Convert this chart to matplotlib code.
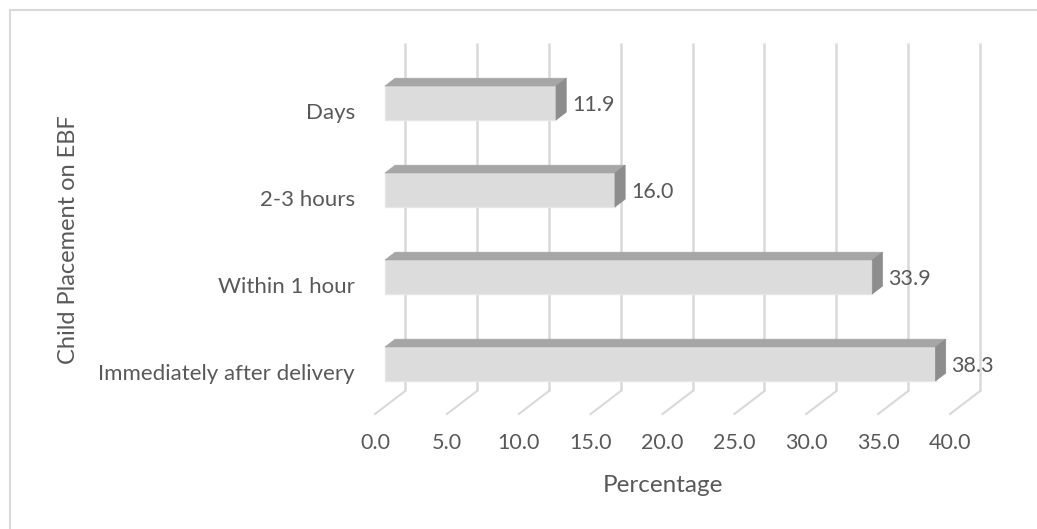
import matplotlib.pyplot as plt
from matplotlib.patches import Polygon
from matplotlib.lines import Line2D

plt.rcParams['font.family'] = ['Lato', 'DejaVu Sans']

categories = ["Immediately after delivery", "Within 1 hour", "2-3 hours", "Days"]
percent = [38.3, 33.9, 16.0, 11.9]
ticks = [0, 5, 10, 15, 20, 25, 30, 35, 40]

# oblique "3D" look: x in percent, y in category units
DX, DY = 2.09, 0.264      # floor depth offset (front -> back wall)
D0, BD = 0.33, 0.34       # bar front-face depth and bar thickness (fractions)
H = 0.195                 # half height of bar front face
FLOOR = -0.575
TOP = 3.69
txt = '#595959'
grid_c = '#d9d9d9'

fig = plt.figure(figsize=(10.37, 5.29), dpi=100)
ax = fig.add_axes([0, 0, 1, 1])
ax.set_xlim(-26.09, 46.05)
ax.set_ylim(-1.897, 4.184)
ax.axis('off')

# back wall gridlines and floor lines
for t in ticks:
    ax.plot([t + DX, t + DX], [FLOOR + DY, TOP], color=grid_c, lw=1.8, zorder=1,
            solid_capstyle='butt')
    ax.plot([t, t + DX], [FLOOR, FLOOR + DY], color=grid_c, lw=1.5, zorder=1)
    ax.text(t, -0.908, f"{t:.1f}", ha='center', va='center', fontsize=15.5, color=txt)

# bars
for i, (cat, v) in enumerate(zip(categories, percent)):
    x0 = D0 * DX
    x1 = x0 + v
    ox, oy = BD * DX, BD * DY
    front = Polygon([(x0, i - H), (x1, i - H), (x1, i + H), (x0, i + H)],
                    closed=True, facecolor='#dcdcdc', edgecolor='#e6e6e6', lw=1, zorder=3)
    top = Polygon([(x0, i + H), (x1, i + H), (x1 + ox, i + H + oy), (x0 + ox, i + H + oy)],
                  closed=True, facecolor='#a6a6a6', edgecolor='#a6a6a6', lw=0.5, zorder=3)
    side = Polygon([(x1, i - H), (x1 + ox, i - H + oy), (x1 + ox, i + H + oy), (x1, i + H)],
                   closed=True, facecolor='#8d8d8d', edgecolor='#8d8d8d', lw=0.5, zorder=3)
    for p in (front, top, side):
        ax.add_patch(p)
    ax.text(x1 + ox + 0.4, i - 0.02, f"{v:.1f}", ha='left', va='center', fontsize=15.5, color=txt)
    ax.text(-1.39, i - 0.11, cat, ha='right', va='center', fontsize=16, color=txt)

ax.text(20.03, -1.40, "Percentage", ha='center', va='center', fontsize=17.5, color=txt)
ax.text(-21.3, 1.425, "Child Placement on EBF", ha='center', va='center', fontsize=17,
        color=txt, rotation=90)

# chart frame (top and left edges visible)
fig.add_artist(Line2D([0.0096, 1], [0.982, 0.982], transform=fig.transFigure, color=grid_c, lw=1.5))
fig.add_artist(Line2D([0.0096, 0.0096], [0, 0.982], transform=fig.transFigure, color=grid_c, lw=1.5))

fig.savefig('out.png', dpi=100)
